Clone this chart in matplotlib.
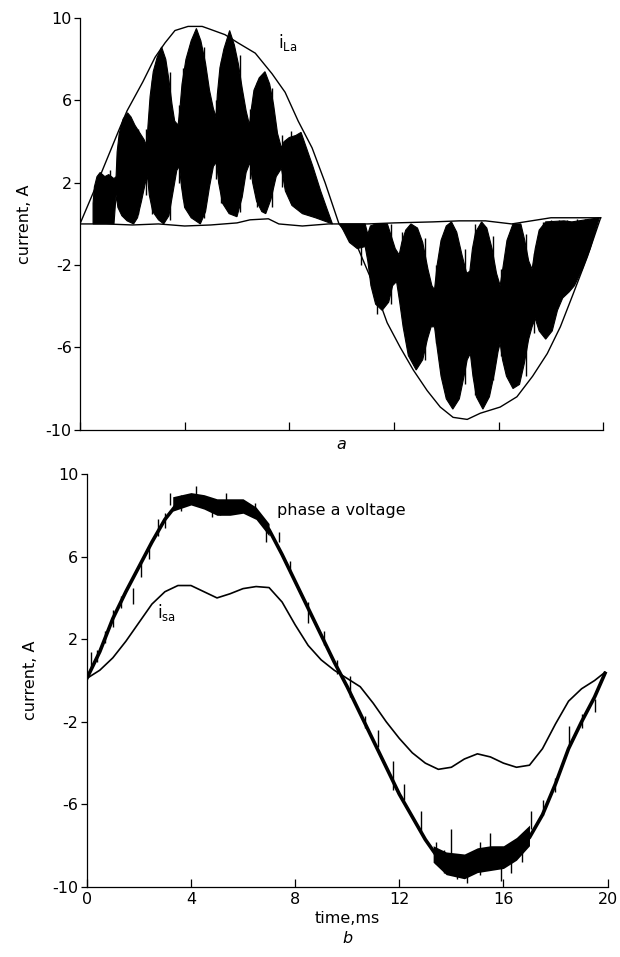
import numpy as np
import matplotlib.pyplot as plt

# ---------------------------------------------------------
# panel a : load current i_La
# ---------------------------------------------------------

env_t = [0.00, 0.50, 1.00, 1.50, 1.80, 2.10, 2.40, 2.87, 3.25, 3.63, 4.13, 4.67,
         5.00, 5.54, 6.04, 6.70, 7.34, 7.84, 8.34, 8.87, 9.37, 9.90, 10.60,
         11.20, 11.74, 12.24, 12.74, 13.27, 13.77, 14.26, 14.80, 15.30, 16.06,
         16.70, 17.30, 17.86, 18.36, 18.85, 19.39, 19.90]
env_v = [0.0, 1.5, 3.05, 4.6, 5.5, 6.2, 6.9, 8.1, 8.8, 9.4, 9.6, 9.6,
         9.45, 9.2, 8.8, 8.3, 7.3, 6.4, 5.0, 3.7, 2.0, 0.0, -1.1,
         -2.9, -4.8, -6.0, -7.1, -8.1, -8.9, -9.4, -9.5, -9.2, -8.9,
         -8.4, -7.4, -6.3, -5.0, -3.4, -1.6, 0.3]

base_t = [0.0, 1.0, 2.0, 3.0, 4.0, 5.0, 6.0, 6.5, 7.2, 7.6, 8.5, 9.5, 9.94,
          11.0, 12.0, 13.5, 14.5, 15.5, 16.5, 17.0, 18.0, 19.0, 19.9]
base_v = [0.0, 0.0, -0.05, 0.0, -0.1, -0.05, 0.05, 0.2, 0.25, 0.0, -0.1, 0.0, 0.0,
          0.0, 0.05, 0.1, 0.15, 0.15, 0.0, 0.1, 0.3, 0.3, 0.3]

# chopped bursts, positive half: upper and lower outline of the black area
pos_up_t = [0.50, 0.55, 0.65, 0.77, 0.95, 1.10, 1.30, 1.38,
            1.42, 1.50, 1.65, 1.82, 1.95, 2.10, 2.30, 2.45, 2.55,
            2.60, 2.68, 2.80, 2.95, 3.12, 3.28, 3.40, 3.52, 3.62, 3.75,
            3.82, 3.90, 4.05, 4.25, 4.45, 4.62, 4.80, 4.95, 5.10, 5.20,
            5.25, 5.35, 5.50, 5.72, 5.90, 6.05, 6.20, 6.35, 6.48,
            6.55, 6.65, 6.85, 7.07, 7.25, 7.40, 7.55, 7.70,
            7.80, 8.00, 8.25, 8.45, 8.60, 8.90, 9.20, 9.45, 9.65]
pos_up_v = [1.0, 1.8, 2.3, 2.5, 2.3, 2.4, 2.2, 2.3,
            3.5, 4.4, 5.1, 5.4, 5.2, 4.8, 4.4, 4.1, 3.8,
            4.8, 6.2, 7.4, 8.1, 8.6, 8.0, 7.0, 5.8, 5.0, 4.8,
            5.6, 6.8, 8.0, 8.9, 9.5, 8.9, 7.8, 6.5, 5.6, 5.2,
            6.3, 7.6, 8.5, 9.4, 8.7, 7.8, 6.6, 5.5, 4.8,
            5.6, 6.5, 7.1, 7.4, 6.8, 5.8, 4.4, 3.7,
            4.0, 4.2, 4.3, 4.45, 3.9, 2.8, 1.6, 0.7, 0.0]
pos_lo_t = [0.50, 1.30, 1.38, 1.45, 1.60, 1.80, 2.05, 2.20, 2.35, 2.50, 2.58,
            2.65, 2.78, 3.00, 3.20, 3.40, 3.55, 3.70, 3.80,
            3.88, 4.00, 4.25, 4.60, 4.80, 4.95, 5.10, 5.22,
            5.30, 5.45, 5.70, 6.00, 6.20, 6.35, 6.50,
            6.60, 6.75, 6.95, 7.10, 7.30, 7.50, 7.70,
            7.85, 8.10, 8.50, 9.00, 9.65]
pos_lo_v = [0.0, 0.0, 1.4, 0.8, 0.4, 0.15, 0.0, 0.3, 1.1, 2.0, 2.3,
            1.4, 0.6, 0.2, 0.0, 0.4, 1.5, 2.6, 2.8,
            1.8, 0.8, 0.3, 0.0, 0.6, 1.8, 2.8, 3.0,
            2.0, 1.0, 0.5, 0.35, 1.3, 2.5, 3.0,
            2.0, 1.1, 0.6, 0.5, 1.2, 2.3, 2.7,
            1.6, 0.9, 0.5, 0.3, 0.0]

# chopped bursts, negative half
neg_up_t = [9.94, 10.90, 11.00, 11.10, 11.30, 11.75, 11.90, 12.05, 12.20,
            12.30, 12.45, 12.65, 12.90, 13.10, 13.30, 13.45, 13.55,
            13.65, 13.80, 14.00, 14.20, 14.40, 14.60, 14.78, 14.90,
            15.00, 15.12, 15.35, 15.55, 15.75, 15.92, 16.06,
            16.18, 16.32, 16.55, 16.85, 17.00, 17.15, 17.28,
            17.40, 17.55, 17.80, 18.50, 18.80, 19.85]
neg_up_v = [0.0, 0.0, -0.5, -0.1, 0.0, 0.0, -0.6, -1.2, -1.5,
            -0.9, -0.3, 0.0, -0.2, -0.9, -2.2, -3.0, -3.2,
            -2.0, -0.8, -0.1, 0.1, -0.4, -1.5, -2.4, -2.3,
            -1.2, -0.4, 0.1, -0.2, -1.2, -2.4, -3.0,
            -2.0, -0.8, 0.0, 0.0, -0.8, -1.8, -2.2,
            -1.2, -0.3, 0.1, 0.15, 0.1, 0.3]
neg_lo_t = [9.94, 10.30, 10.60, 10.90, 11.00, 11.12, 11.30, 11.55, 11.80, 11.95,
            12.10, 12.22, 12.35, 12.55, 12.85, 13.10, 13.28, 13.42, 13.55,
            13.65, 13.80, 14.00, 14.25, 14.50, 14.68, 14.80, 14.92,
            15.02, 15.15, 15.40, 15.65, 15.85, 15.98, 16.06,
            16.15, 16.30, 16.55, 16.80, 16.98, 17.15, 17.28,
            17.40, 17.55, 17.80, 18.05, 18.25, 18.45, 18.70, 18.90,
            19.20, 19.50, 19.85]
neg_lo_v = [0.0, -0.9, -1.2, -1.1, -1.8, -3.0, -3.9, -4.2, -3.8, -3.0,
            -2.8, -3.8, -5.0, -6.4, -7.1, -6.6, -5.6, -5.0, -5.0,
            -6.0, -7.4, -8.5, -9.0, -8.5, -7.4, -6.6, -6.3,
            -7.4, -8.4, -9.0, -8.4, -7.2, -6.2, -5.8,
            -6.6, -7.4, -8.0, -7.8, -6.8, -5.6, -5.0,
            -4.6, -5.2, -5.6, -5.2, -4.2, -3.6, -3.3, -3.0,
            -2.2, -1.2, 0.3]

# single switching strokes that stick out of the bursts
la_spike_t = [1.15, 1.55, 2.20, 2.52, 2.75, 3.45, 3.78, 3.95, 4.75, 5.20,
              5.40, 6.10, 6.50, 6.75, 7.35, 7.72, 8.05,
              10.75, 11.35, 11.90, 12.30, 13.20, 13.60, 14.70, 15.10, 15.80,
              16.10, 17.05, 17.35, 17.70, 18.00, 18.30, 18.60, 19.00, 19.30]
la_spike_lo = [0.9, 0.9, 0.5, 1.4, 0.5, 0.2, 2.0, 1.2, 0.3, 2.2,
               1.0, 0.6, 2.2, 0.8, 0.8, 1.8, 1.0,
               -2.0, -4.4, -3.9, -4.2, -6.6, -5.8, -7.8, -8.3, -7.6,
               -6.4, -7.4, -5.3, -1.0, -0.8, -1.2, -0.9, -0.7, -0.6]
la_spike_hi = [2.6, 4.8, 4.6, 4.6, 7.0, 7.4, 5.8, 7.6, 8.6, 6.0,
               7.9, 8.2, 5.6, 6.9, 6.6, 4.3, 4.5,
               -0.3, -0.2, 0.0, -0.4, -0.7, -2.0, -1.2, 0.0, -0.6,
               -2.2, -0.5, -1.4, 0.1, 0.2, 0.2, 0.2, 0.25, 0.25]

# ---------------------------------------------------------
# panel b : phase a voltage and source current i_sa
# ---------------------------------------------------------

vol_t = [0.0, 0.5, 1.0, 1.5, 2.0, 2.5, 3.0, 3.5, 4.0, 4.5, 5.0, 5.5, 6.0, 6.5,
         7.0, 7.5, 8.0, 8.5, 9.0, 9.5, 10.0, 10.5, 11.0, 11.5, 12.0, 12.5, 13.0,
         13.5, 14.0, 14.5, 15.0, 15.5, 16.0, 16.5, 17.0, 17.5, 18.0, 18.5, 19.0,
         19.5, 19.9]
vol_v = [0.1, 1.4, 3.0, 4.3, 5.5, 6.7, 7.8, 8.6, 8.9, 8.7, 8.4, 8.4, 8.4, 8.1,
         7.3, 6.1, 4.8, 3.5, 2.2, 0.9, -0.3, -1.6, -2.9, -4.2, -5.5, -6.6, -7.7,
         -8.6, -8.9, -9.0, -8.7, -8.6, -8.6, -8.2, -7.6, -6.5, -5.0, -3.3, -2.0,
         -0.8, 0.35]

isa_t = [0.0, 0.5, 1.0, 1.5, 2.0, 2.5, 3.0, 3.5, 4.0, 4.5, 5.0, 5.5, 6.0, 6.5,
         7.0, 7.5, 8.0, 8.5, 9.0, 9.5, 10.0, 10.5, 11.0, 11.5, 12.0, 12.5, 13.0,
         13.5, 14.0, 14.5, 15.0, 15.5, 16.0, 16.5, 17.0, 17.5, 18.0, 18.5, 19.0,
         19.5, 19.9]
isa_v = [0.1, 0.5, 1.1, 1.9, 2.8, 3.7, 4.3, 4.6, 4.6, 4.3, 4.0, 4.2, 4.45, 4.55,
         4.5, 3.8, 2.7, 1.7, 1.0, 0.5, 0.1, -0.3, -1.1, -2.0, -2.8, -3.5, -4.0,
         -4.3, -4.2, -3.8, -3.55, -3.7, -4.0, -4.2, -4.1, -3.3, -2.1, -1.0, -0.4,
         0.0, 0.4]

# noisy parts of the voltage trace
peak_t = [3.3, 4.0, 4.5, 5.0, 5.5, 6.0, 6.5, 7.0]
peak_lo = [8.2, 8.5, 8.3, 8.0, 8.0, 8.1, 7.8, 7.0]
peak_hi = [8.9, 9.1, 9.0, 8.8, 8.8, 8.8, 8.4, 7.6]
trough_t = [13.3, 13.8, 14.5, 15.0, 15.5, 16.0, 16.5, 17.0]
trough_lo = [-8.8, -9.4, -9.6, -9.3, -9.2, -9.1, -8.7, -8.0]
trough_hi = [-8.0, -8.3, -8.4, -8.1, -8.0, -8.0, -7.6, -7.0]

spike_t = [0.18, 0.4, 0.7, 1.0, 1.3, 1.77, 2.1, 2.4, 2.72, 3.0, 3.19, 3.6,
           4.2, 4.8, 5.1, 5.36, 5.8, 6.45, 6.9, 7.4, 7.8, 8.5, 9.1, 9.6,
           10.1, 10.67, 11.2, 11.75, 12.2, 12.85, 13.4, 13.7, 14.0, 14.2,
           14.6, 15.1, 15.5, 15.9, 16.3, 16.7, 17.07, 17.5, 17.97, 18.5,
           19.0, 19.5]
spike_lo = [0.6, 0.9, 1.8, 2.6, 3.5, 3.7, 5.0, 5.9, 7.0, 7.4, 8.5, 8.2,
            8.5, 7.9, 8.0, 8.3, 8.1, 8.1, 6.7, 6.7, 5.2, 2.8, 1.7, 0.3,
            -0.8, -2.3, -3.2, -5.3, -5.8, -7.3, -8.9, -9.3, -8.7, -9.6,
            -9.8, -9.4, -8.9, -9.7, -9.3, -8.8, -7.2, -6.5, -5.4, -3.1,
            -2.3, -1.5]
spike_hi = [1.4, 1.5, 2.4, 3.4, 4.1, 4.5, 5.7, 6.5, 7.8, 8.1, 9.1, 9.0,
            9.4, 8.3, 8.7, 9.1, 8.7, 8.6, 7.3, 7.2, 5.8, 3.8, 2.4, 1.0,
            0.2, -1.7, -2.4, -3.9, -5.0, -6.3, -7.8, -8.2, -7.2, -8.7,
            -8.6, -7.8, -7.4, -9.0, -7.9, -7.9, -6.3, -5.8, -4.7, -2.2,
            -1.6, -0.9]

x_ticks = [0, 4, 8, 12, 16, 20]
y_ticks = [-10, -6, -2, 2, 6, 10]

plt.rcParams['font.family'] = 'DejaVu Sans'
plt.rcParams['font.size'] = 11.5
plt.rcParams['axes.linewidth'] = 0.9
plt.rcParams['axes.unicode_minus'] = False


def style_axes(ax):
    ax.set_xlim(0, 20)
    ax.set_ylim(-10, 10)
    ax.spines['top'].set_visible(False)
    ax.spines['right'].set_visible(False)
    ax.set_xticks(x_ticks)
    ax.set_yticks(y_ticks)
    ax.tick_params(axis='x', direction='in', length=6, width=0.9)
    ax.tick_params(axis='y', direction='out', length=4, width=0.9, pad=2)
    ax.set_ylabel("current, A", labelpad=10)


fig = plt.figure(figsize=(6.2, 9.57), dpi=100)

# ===================== panel a ==========================
ax1 = fig.add_axes([0.129, 0.551, 0.844, 0.430])

ax1.fill(pos_up_t + pos_lo_t[::-1], pos_up_v + pos_lo_v[::-1],
         facecolor='black', edgecolor='black', linewidth=0.8)
ax1.fill(neg_up_t + neg_lo_t[::-1], neg_up_v + neg_lo_v[::-1],
         facecolor='black', edgecolor='black', linewidth=0.8)
ax1.vlines(la_spike_t, la_spike_lo, la_spike_hi, color='black', linewidth=1.0)
ax1.plot(env_t, env_v, color='black', linewidth=1.0)
ax1.plot(base_t, base_v, color='black', linewidth=1.0)

ax1.text(7.55, 8.8, r"i$_{\mathregular{La}}$", fontsize=12, va='center', ha='left')

style_axes(ax1)
ax1.set_xticklabels([])
ax1.set_xlabel("a", fontstyle='italic', labelpad=2)

# ===================== panel b ==========================
ax2 = fig.add_axes([0.140, 0.0731, 0.840, 0.4316])

ax2.fill_between(peak_t, peak_lo, peak_hi, color='black', linewidth=0)
ax2.fill_between(trough_t, trough_lo, trough_hi, color='black', linewidth=0)
ax2.vlines(spike_t, spike_lo, spike_hi, color='black', linewidth=1.0)
ax2.plot(vol_t, vol_v, color='black', linewidth=2.6)
ax2.plot(isa_t, isa_v, color='black', linewidth=1.2)

ax2.text(7.3, 8.25, "phase a voltage", fontsize=11.5, va='center', ha='left')
ax2.text(2.7, 3.3, r"i$_{\mathregular{sa}}$", fontsize=12, va='center', ha='left')

style_axes(ax2)
ax2.set_xlabel("time,ms", labelpad=3)
ax2.text(0.5, -0.125, "b", transform=ax2.transAxes, fontstyle='italic',
         ha='center', va='center')

fig.savefig("out.png", dpi=100)
